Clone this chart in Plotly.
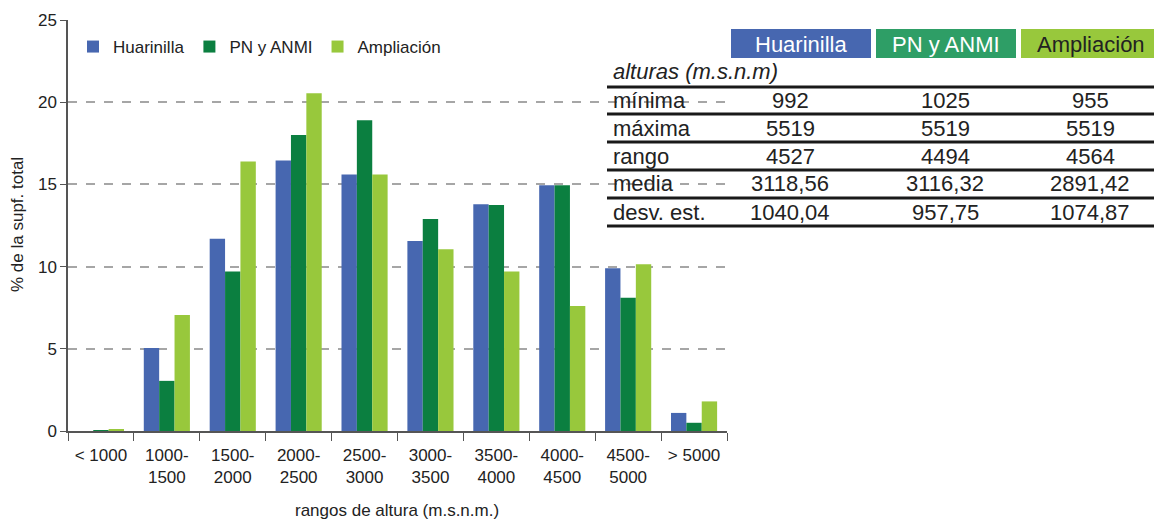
import plotly.graph_objects as go

# elevation ranges (m.s.n.m.)
rangos = ['< 1000', '1000-<br>1500', '1500-<br>2000', '2000-<br>2500', '2500-<br>3000',
          '3000-<br>3500', '3500-<br>4000', '4000-<br>4500', '4500-<br>5000', '> 5000']

# % of total surface per range
huarinilla = [0.0, 5.05, 11.7, 16.45, 15.6, 11.55, 13.8, 14.95, 9.9, 1.1]
pn_anmi = [0.05, 3.05, 9.7, 18.0, 18.9, 12.9, 13.75, 14.95, 8.1, 0.5]
ampliacion = [0.1, 7.05, 16.4, 20.55, 15.6, 11.05, 9.7, 7.6, 10.15, 1.8]

# summary table
areas = ['Huarinilla', 'PN y ANMI', 'Ampliación']
row_labels = ['mínima', 'máxima', 'rango', 'media', 'desv. est.']
minima = ['992', '1025', '955']
maxima = ['5519', '5519', '5519']
rango = ['4527', '4494', '4564']
media = ['3118,56', '3116,32', '2891,42']
desv = ['1040,04', '957,75', '1074,87']

BLUE = '#4767B0'
DGREEN = '#0B7F40'
LGREEN = '#98C83C'
HEAD = [BLUE, '#2E9E66', LGREEN]
HEAD_TXT = ['white', 'white', '#222222']
FONT = 'Liberation Sans, Arial, sans-serif'
TXT = '#222222'

# the page puts an 8px margin around the figure; work in page pixels
OFF = 8
W, H = 1162 - OFF, 521 - OFF
PLOT_L, PLOT_R, PLOT_T, PLOT_B = 68, 727, 20, 431
ML, MT = PLOT_L - OFF, PLOT_T - OFF
MB = H - (PLOT_B - OFF)
MR = 2
PW, PH = W - ML - MR, H - MT - MB


def px(x):
    return (x - OFF - ML) / PW


def py(y):
    return (H - MB - (y - OFF)) / PH


fig = go.Figure()
for name, vals, col in [('Huarinilla', huarinilla, BLUE),
                        ('PN y ANMI', pn_anmi, DGREEN),
                        ('Ampliación', ampliacion, LGREEN)]:
    fig.add_trace(go.Bar(x=rangos, y=vals, name=name, marker_color=col,
                         marker_line_width=0))

shapes = []
annotations = []

# table header boxes
head_x = [(731, 871), (876, 1016), (1021, 1161)]
for (x0, x1), txt, bg, fc in zip(head_x, areas, HEAD, HEAD_TXT):
    shapes.append(dict(type='rect', xref='paper', yref='paper', x0=px(x0), x1=px(x1),
                       y0=py(58), y1=py(29), fillcolor=bg, line_width=0, layer='above'))
    annotations.append(dict(x=px((x0 + x1) / 2), y=py(44), xref='paper', yref='paper',
                            xanchor='center', yanchor='middle',
                            text=txt, showarrow=False, font=dict(size=22, color=fc)))

annotations.append(dict(x=px(611), y=py(72), xref='paper', yref='paper',
                        xanchor='left', yanchor='middle',
                        text='<i>alturas (m.s.n.m)</i>', showarrow=False,
                        font=dict(size=22, color=TXT)))

rows = [minima, maxima, rango, media, desv]
row_y = [100, 128, 156, 184, 212]
col_x = [790, 945, 1090]
for lab, vals, y in zip(row_labels, rows, row_y):
    annotations.append(dict(x=px(611), y=py(y), xref='paper', yref='paper',
                            xanchor='left', yanchor='middle',
                            text=lab, showarrow=False, font=dict(size=22, color=TXT)))
    for v, cx in zip(vals, col_x):
        annotations.append(dict(x=px(cx), y=py(y), xref='paper', yref='paper',
                                xanchor='center', yanchor='middle',
                                text=v, showarrow=False, font=dict(size=22, color=TXT)))

for ly in [87, 114, 142, 170, 198, 226]:
    shapes.append(dict(type='line', xref='paper', yref='paper', x0=px(607), x1=px(1162),
                       y0=py(ly), y1=py(ly), line=dict(color='#1a1a1a', width=3)))

# axis titles
annotations.append(dict(x=px(397), y=py(510), xref='paper', yref='paper',
                        xanchor='center', yanchor='middle', showarrow=False,
                        text='rangos de altura (m.s.n.m.)', font=dict(size=17, color=TXT)))
annotations.append(dict(x=px(18), y=py(225), xref='paper', yref='paper',
                        xanchor='center', yanchor='middle', showarrow=False, textangle=-90,
                        text='% de la supf. total', font=dict(size=17, color=TXT)))

fig.update_layout(
    width=W, height=H,
    margin=dict(l=ML, r=MR, t=MT, b=MB),
    plot_bgcolor='white', paper_bgcolor='white',
    font=dict(family=FONT, size=17, color=TXT),
    barmode='group', bargap=0.3, bargroupgap=0,
    showlegend=True,
    legend=dict(orientation='h', x=px(73), y=py(29), xanchor='left', yanchor='top',
                font=dict(size=17), bgcolor='rgba(0,0,0,0)', itemwidth=30,
                tracegroupgap=0),
    xaxis=dict(domain=[0, px(PLOT_R)], showline=True, linecolor='#555555', linewidth=1.5,
               ticks='outside', tickson='boundaries', ticklen=8, tickcolor='#555555',
               tickfont=dict(size=17), ticklabelstandoff=8, automargin=False),
    yaxis=dict(range=[0, 25], dtick=5, showline=True, linecolor='#555555', linewidth=1.5,
               ticks='outside', ticklen=6, tickcolor='#555555', tickfont=dict(size=17),
               showgrid=True, gridcolor='#A6A6A6', griddash='dash', gridwidth=1.5,
               zeroline=False, automargin=False),
    shapes=shapes,
    annotations=annotations,
)

fig.write_html('out.html')
